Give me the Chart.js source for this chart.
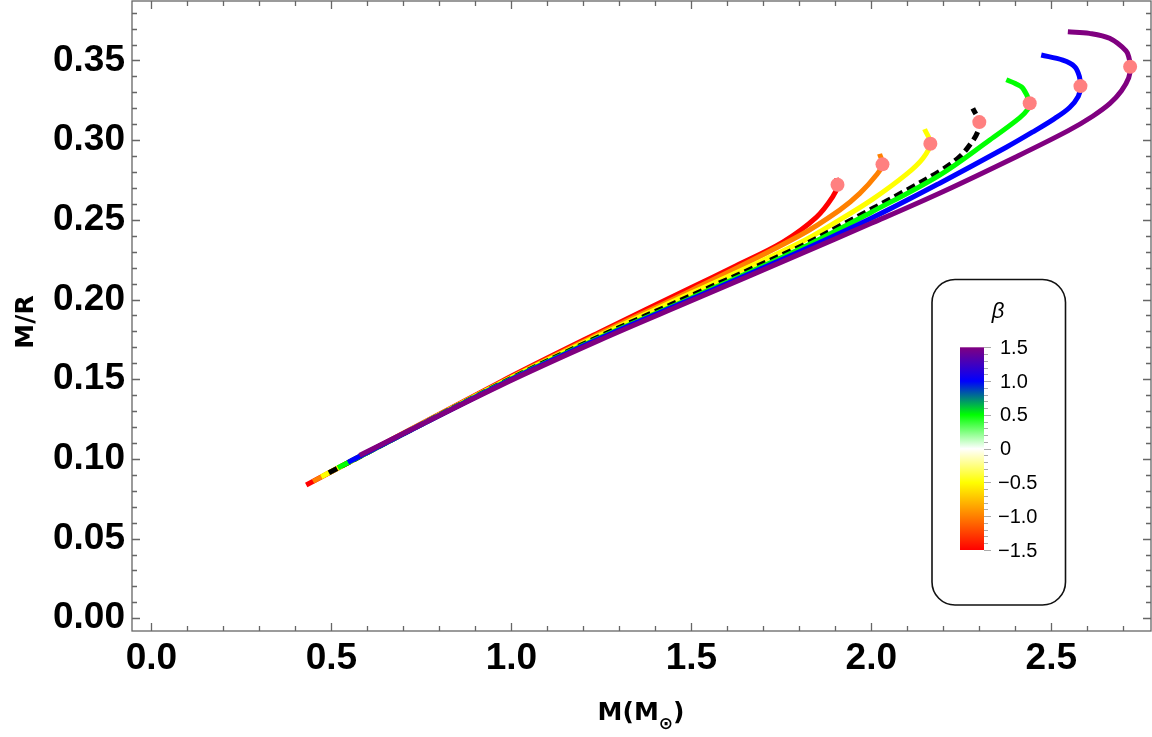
<!DOCTYPE html>
<html>
<head>
<meta charset="utf-8">
<script src="https://cdn.jsdelivr.net/npm/chart.js@4.4.1/dist/chart.umd.min.js"></script>
<style>
  html, body { margin: 0; padding: 0; background: #fff; }
  #wrap { width: 1152px; height: 737px; position: relative; }
</style>
</head>
<body>
<div id="wrap"><canvas id="mrChart"></canvas></div>
<script>
// tick labels
const massTicks = [0.0, 0.5, 1.0, 1.5, 2.0, 2.5];
const compTicks = [0.00, 0.05, 0.10, 0.15, 0.20, 0.25, 0.30, 0.35];
const betaLabels = ['1.5', '1.0', '0.5', '0', '\u22120.5', '\u22121.0', '\u22121.5'];
const betaColors = ['#800080', '#0000ff', '#00ff00', '#ffffff', '#ffff00', '#ff8000', '#ff0000'];

// beta = -1.5 (red)
const massRed = [0.430, 0.967, 1.245, 1.500, 1.616, 1.754, 1.847, 1.893, 1.907, 1.903];
const compRed = [0.0836, 0.1480, 0.1795, 0.2075, 0.2203, 0.2360, 0.2515, 0.2645, 0.2720, 0.2762];
// beta = -1.0 (orange)
const massOrange = [0.449, 0.967, 1.245, 1.500, 1.800, 1.912, 1.968, 2.014, 2.031, 2.023];
const compOrange = [0.0859, 0.1475, 0.1785, 0.2057, 0.2400, 0.2561, 0.2666, 0.2781, 0.2848, 0.2914];
// beta = -0.5 (yellow)
const massYellow = [0.472, 0.967, 1.245, 1.500, 1.800, 1.912, 2.004, 2.097, 2.143, 2.164, 2.148];
const compYellow = [0.0888, 0.1471, 0.1775, 0.2040, 0.2355, 0.2500, 0.2630, 0.2785, 0.2885, 0.2978, 0.3069];
// beta = 0 (black, dashed)
const massBlack = [0.493, 0.967, 1.245, 1.500, 1.800, 1.912, 2.097, 2.190, 2.245, 2.280, 2.297, 2.300, 2.282];
const compBlack = [0.0913, 0.1468, 0.1768, 0.2025, 0.2330, 0.2461, 0.2685, 0.2805, 0.2895, 0.2990, 0.3060, 0.3113, 0.3199];
// beta = 0.5 (green)
const massGreen = [0.518, 0.967, 1.245, 1.500, 1.800, 2.000, 2.190, 2.329, 2.412, 2.435, 2.440, 2.421, 2.400, 2.375];
const compGreen = [0.0944, 0.1465, 0.1760, 0.2010, 0.2315, 0.2548, 0.2781, 0.3001, 0.3140, 0.3195, 0.3231, 0.3325, 0.3355, 0.3379];
// beta = 1.0 (blue)
const massBlue = [0.546, 0.967, 1.245, 1.500, 1.800, 2.000, 2.190, 2.375, 2.455, 2.509, 2.551, 2.575, 2.581, 2.578, 2.565, 2.532, 2.472];
const compBlue = [0.0978, 0.1462, 0.1755, 0.2003, 0.2300, 0.2510, 0.2730, 0.2955, 0.3060, 0.3135, 0.3205, 0.3275, 0.3335, 0.3400, 0.3461, 0.3502, 0.3534];
// beta = 1.5 (purple)
const massPurple = [0.578, 0.967, 1.245, 1.500, 1.800, 2.000, 2.200, 2.400, 2.546, 2.615, 2.663, 2.695, 2.715, 2.720, 2.716, 2.708, 2.662, 2.606, 2.546];
const compPurple = [0.1022, 0.1458, 0.1745, 0.1992, 0.2283, 0.2478, 0.2678, 0.2893, 0.3058, 0.3150, 0.3230, 0.3310, 0.3390, 0.3460, 0.3515, 0.3560, 0.3639, 0.3670, 0.3680];

// maximum-mass points
const peakMass = [1.906, 2.031, 2.164, 2.300, 2.440, 2.581, 2.719];
const peakComp = [0.2720, 0.2848, 0.2977, 0.3113, 0.3231, 0.3339, 0.3460];

const curves = [
  { label: '\u03b2 = -1.5', m: massRed, c: compRed, color: '#ff0000' },
  { label: '\u03b2 = -1.0', m: massOrange, c: compOrange, color: '#ff8000' },
  { label: '\u03b2 = -0.5', m: massYellow, c: compYellow, color: '#ffff00' },
  { label: '\u03b2 = 0', m: massBlack, c: compBlack, color: '#000000', dash: [9, 5] },
  { label: '\u03b2 = 0.5', m: massGreen, c: compGreen, color: '#00ff00' },
  { label: '\u03b2 = 1.0', m: massBlue, c: compBlue, color: '#0000ff' },
  { label: '\u03b2 = 1.5', m: massPurple, c: compPurple, color: '#800080' }
];

const toPoints = (xs, ys) => xs.map((x, i) => ({ x: x, y: ys[i] }));

const datasets = curves.map((cv, i) => ({
  label: cv.label,
  data: toPoints(cv.m, cv.c),
  showLine: true,
  borderColor: cv.color,
  borderWidth: 5,
  borderDash: cv.dash || [],
  pointRadius: 0,
  tension: 0.35,
  fill: false,
  order: curves.length - i
}));
datasets.push({
  label: 'max mass',
  data: toPoints(peakMass, peakComp),
  showLine: false,
  pointRadius: 7,
  pointBackgroundColor: '#ff8080',
  pointBorderWidth: 0,
  order: 0
});

const FRAME = '#666666';

// no edge padding from the tick labels, the frame sits at the canvas edge
const noPad = s => { s.paddingTop = 0; s.paddingBottom = 0; s.paddingLeft = 0; s.paddingRight = 0; };

// Mathematica-like frame with inward ticks on all four sides, titles and the beta colour bar
const framePlugin = {
  id: 'framePlugin',
  afterDraw(chart) {
    const ctx = chart.ctx;
    const a = chart.chartArea;
    const xs = chart.scales.x, ys = chart.scales.y;
    ctx.save();
    ctx.strokeStyle = FRAME;
    ctx.lineWidth = 1.3;
    ctx.strokeRect(a.left, a.top, a.right - a.left, a.bottom - a.top);

    ctx.beginPath();
    for (let k = 0; k <= 27; k++) {
      const v = k / 10;
      const len = (k % 5 === 0) ? 8 : 5;
      const px = Math.round(xs.getPixelForValue(v)) + 0.5;
      ctx.moveTo(px, a.bottom); ctx.lineTo(px, a.bottom - len);
      ctx.moveTo(px, a.top); ctx.lineTo(px, a.top + len);
    }
    for (let k = 0; k <= 38; k++) {
      const v = k / 100;
      const len = (k % 5 === 0) ? 8 : 5;
      const py = Math.round(ys.getPixelForValue(v)) + 0.5;
      ctx.moveTo(a.left, py); ctx.lineTo(a.left + len, py);
      ctx.moveTo(a.right, py); ctx.lineTo(a.right - len, py);
    }
    ctx.stroke();

    // axis titles
    ctx.fillStyle = '#000';
    ctx.textBaseline = 'alphabetic';
    ctx.textAlign = 'left';
    const t1 = 'M(M', t3 = ')';
    ctx.font = 'bold 25px "DejaVu Sans"';
    const w1 = ctx.measureText(t1).width;
    ctx.font = 'bold 17px "DejaVu Sans"';
    const w2 = ctx.measureText('\u2299').width;
    ctx.font = 'bold 25px "DejaVu Sans"';
    const w3 = ctx.measureText(t3).width;
    const tx = 641 - (w1 + w2 + w3) / 2;
    const base = 720;
    ctx.fillText(t1, tx, base);
    ctx.font = 'bold 17px "DejaVu Sans"';
    ctx.fillText('\u2299', tx + w1, base + 9);
    ctx.font = 'bold 25px "DejaVu Sans"';
    ctx.fillText(t3, tx + w1 + w2, base);

    ctx.save();
    ctx.translate(33, 322);
    ctx.rotate(-Math.PI / 2);
    ctx.textAlign = 'center';
    ctx.fillText('M/R', 0, 0);
    ctx.restore();

    // colour bar legend
    const bx = 932, by = 279.5, bw = 133.5, bh = 325.5;
    ctx.beginPath();
    ctx.roundRect(bx, by, bw, bh, 23);
    ctx.fillStyle = '#fff';
    ctx.fill();
    ctx.strokeStyle = '#111';
    ctx.lineWidth = 1.6;
    ctx.stroke();

    ctx.fillStyle = '#000';
    ctx.font = 'italic 22px "Liberation Sans"';
    ctx.textAlign = 'center';
    ctx.textBaseline = 'middle';
    ctx.fillText('\u03b2', 998, 312);

    const cx0 = 960, cx1 = 984, cy0 = 347.3, cy1 = 550;
    const grad = ctx.createLinearGradient(0, cy0, 0, cy1);
    betaColors.forEach((c, i) => grad.addColorStop(i / (betaColors.length - 1), c));
    ctx.fillStyle = grad;
    ctx.fillRect(cx0, cy0, cx1 - cx0, cy1 - cy0);

    ctx.strokeStyle = '#aaaaaa';
    ctx.lineWidth = 1;
    ctx.beginPath();
    for (let k = 0; k <= 30; k++) {
      const py = Math.round(cy0 + (cy1 - cy0) * k / 30) + 0.5;
      const len = (k % 5 === 0) ? 7 : 4;
      ctx.moveTo(cx1, py); ctx.lineTo(cx1 + len, py);
    }
    ctx.stroke();

    ctx.fillStyle = '#000';
    ctx.font = '20px "Liberation Sans"';
    ctx.textAlign = 'left';
    betaLabels.forEach((lab, i) => {
      const py = cy0 + (cy1 - cy0) * i / (betaLabels.length - 1);
      ctx.fillText(lab, lab.startsWith('\u2212') ? 998 : 1000, py + 1);
    });
    ctx.restore();
  }
};

new Chart(document.getElementById('mrChart').getContext('2d'), {
  type: 'scatter',
  data: { datasets },
  options: {
    responsive: true,
    maintainAspectRatio: false,
    animation: false,
    devicePixelRatio: 1,
    layout: { autoPadding: false, padding: { top: 1, right: 1, left: 0, bottom: 0 } },
    plugins: { legend: { display: false }, tooltip: { enabled: false } },
    scales: {
      x: {
        type: 'linear',
        min: -0.054, max: 2.777,
        grid: { display: false, drawTicks: false },
        border: { display: false },
        afterBuildTicks: s => { s.ticks = massTicks.map(v => ({ value: v })); },
        afterFit: s => { s.height = 106; noPad(s); },
        ticks: {
          padding: 6,
          color: '#000',
          font: { family: '"Liberation Sans"', size: 37, weight: 'bold' },
          callback: v => v.toFixed(1)
        }
      },
      y: {
        type: 'linear',
        min: -0.008, max: 0.3873,
        grid: { display: false, drawTicks: false },
        border: { display: false },
        afterBuildTicks: s => { s.ticks = compTicks.map(v => ({ value: v })); },
        afterFit: s => { s.width = 132; noPad(s); },
        ticks: {
          padding: 7,
          color: '#000',
          font: { family: '"Liberation Sans"', size: 37, weight: 'bold' },
          callback: v => v.toFixed(2)
        }
      }
    }
  },
  plugins: [framePlugin]
});
</script>
</body>
</html>
